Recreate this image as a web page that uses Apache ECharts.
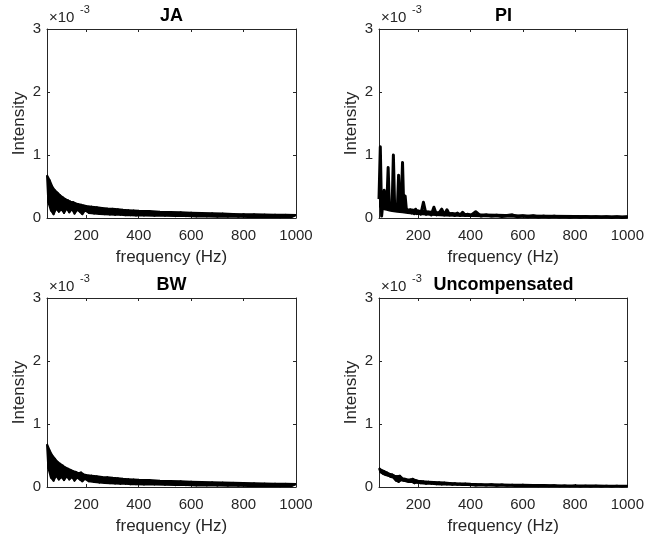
<!DOCTYPE html>
<html><head><meta charset="utf-8">
<script src="https://cdn.jsdelivr.net/npm/echarts@6/dist/echarts.min.js"></script>
<style>html,body{margin:0;padding:0;background:#fff}#c{width:647px;height:542px}</style>
</head><body><div id="c"></div>
<script>
// Frequency grid (Hz)
const freq = [50,55,60,65,70,75,80,85,90,95,100,105,110,115,120,125,130,135,140,145,150,155,160,165,170,175,180,185,190,195,200,
210,220,230,240,250,260,270,280,290,300,310,320,330,340,350,360,370,380,390,400,
420,440,460,480,500,520,540,560,580,600,620,640,660,680,700,720,740,760,780,800,820,840,860,880,900,920,940,960,980,1000];

// Intensity values in units of 1e-3 (alternating upper / lower swings of the dense spectrum)
const ja = [0.68,0.25,0.60,0.12,0.50,0.06,0.44,0.15,0.40,0.10,0.36,0.14,0.33,0.08,0.30,0.15,0.28,0.09,0.26,0.14,0.25,0.07,0.23,0.13,0.22,0.10,0.21,0.06,0.20,0.12,0.19,
0.08,0.18,0.07,0.17,0.065,0.16,0.06,0.15,0.055,0.145,0.05,0.14,0.05,0.13,0.045,0.125,0.045,0.12,0.04,0.115,
0.04,0.11,0.035,0.10,0.035,0.095,0.03,0.09,0.03,0.085,0.025,0.08,0.025,0.075,0.02,0.07,0.02,0.065,0.018,0.06,0.016,0.058,0.015,0.055,0.014,0.052,0.012,0.05,0.012,0.048];

const pi = [0.30,1.13,0.03,0.25,0.44,0.15,0.22,0.80,0.15,0.20,0.14,1.00,0.15,0.18,0.12,0.68,0.13,0.20,0.88,0.11,0.35,0.12,0.15,0.09,0.13,0.08,0.12,0.07,0.14,0.07,0.11,
0.06,0.25,0.06,0.09,0.05,0.17,0.05,0.08,0.14,0.05,0.13,0.05,0.07,0.04,0.08,0.04,0.09,0.04,0.06,0.035,
0.10,0.03,0.05,0.03,0.045,0.025,0.04,0.05,0.02,0.035,0.02,0.035,0.015,0.03,0.015,0.03,0.015,0.025,0.01,0.025,0.01,0.025,0.01,0.02,0.01,0.02,0.008,0.02,0.008,0.02];

// PI dense background band (upper / lower edges), units of 1e-3
const piBaseFreq = [50,60,70,80,90,100,120,140,160,180,200,250,300,350,400,500,600,700,800,900,1000];
const piBaseHi = [0.32,0.28,0.25,0.23,0.21,0.20,0.18,0.16,0.14,0.13,0.12,0.10,0.085,0.07,0.06,0.05,0.04,0.035,0.03,0.028,0.025];
const piBaseLo = [0.20,0.15,0.14,0.13,0.12,0.11,0.10,0.09,0.08,0.07,0.065,0.05,0.04,0.035,0.03,0.022,0.018,0.014,0.012,0.01,0.008];

const bw = [0.68,0.30,0.58,0.15,0.50,0.10,0.45,0.18,0.40,0.12,0.37,0.16,0.34,0.11,0.31,0.17,0.29,0.12,0.27,0.16,0.25,0.10,0.24,0.15,0.22,0.12,0.23,0.09,0.20,0.13,0.19,
0.09,0.18,0.08,0.17,0.07,0.16,0.065,0.155,0.06,0.145,0.055,0.14,0.05,0.13,0.05,0.125,0.045,0.12,0.045,0.115,
0.04,0.11,0.04,0.10,0.035,0.095,0.03,0.09,0.03,0.085,0.025,0.08,0.025,0.075,0.022,0.07,0.02,0.066,0.018,0.062,0.016,0.058,0.015,0.055,0.014,0.052,0.012,0.05,0.012,0.048];

const unc = [0.30,0.24,0.27,0.21,0.25,0.19,0.23,0.18,0.21,0.16,0.20,0.15,0.18,0.10,0.17,0.08,0.18,0.11,0.14,0.10,0.13,0.09,0.12,0.08,0.12,0.08,0.13,0.06,0.11,0.07,0.10,
0.06,0.09,0.05,0.085,0.05,0.08,0.045,0.075,0.04,0.07,0.04,0.065,0.035,0.06,0.035,0.055,0.03,0.055,0.03,0.05,
0.025,0.045,0.025,0.045,0.02,0.04,0.02,0.035,0.015,0.035,0.015,0.03,0.012,0.03,0.012,0.028,0.01,0.025,0.01,0.025,0.008,0.022,0.008,0.022,0.007,0.02,0.007,0.02,0.006,0.018];

const titles = ['JA','PI','BW','Uncompensated'];
const values = [ja, pi, bw, unc];
const xTicks = [200,400,600,800,1000];
const yTicks = [0,1,2,3];
const xRange = [50,1000];
const yRange = [0,3];
const xName = 'frequency (Hz)';
const yName = 'Intensity';

// band outlines per panel: [frequencies, upper edge, lower edge]
function evenOdd(arr, parity){ return arr.filter((_,k)=>k%2===parity); }
const bands = [
  [evenOdd(freq,0), evenOdd(ja,0), evenOdd(freq,1), evenOdd(ja,1)],
  [piBaseFreq, piBaseHi, piBaseFreq, piBaseLo],
  [evenOdd(freq,0), evenOdd(bw,0), evenOdd(freq,1), evenOdd(bw,1)],
  [evenOdd(freq,0), evenOdd(unc,0), evenOdd(freq,1), evenOdd(unc,1)]
];

const FONT = '"Liberation Sans", Arial, Helvetica, sans-serif';
const AX = '#262626';
const boxes = [[47,29],[379,29],[47,298],[379,298]];
const W = 249, H = 189;

const grid=[], xAxis=[], yAxis=[], series=[], graphic=[];
boxes.forEach((b,i)=>{
  grid.push({left:b[0], top:b[1], width:W, height:H, containLabel:false});
  const baseX = {type:'value', gridIndex:i, min:xRange[0], max:xRange[1],
    axisLine:{show:true, onZero:false, lineStyle:{color:AX, width:1}},
    axisTick:{show:true, inside:true, length:3, customValues:xTicks, lineStyle:{color:AX}},
    splitLine:{show:false}};
  xAxis.push(Object.assign({}, baseX, {position:'bottom',
    axisLabel:{show:true, customValues:xTicks, color:AX, fontSize:15, fontFamily:FONT, margin:10, formatter:v=>String(v)},
    name:xName, nameLocation:'middle', nameGap:31, nameTextStyle:{color:AX, fontSize:17, fontFamily:FONT}}));
  xAxis.push(Object.assign({}, baseX, {position:'top', axisLabel:{show:false}}));
  const baseY = {type:'value', gridIndex:i, min:yRange[0], max:yRange[1], interval:1,
    axisLine:{show:true, onZero:false, lineStyle:{color:AX, width:1}},
    axisTick:{show:true, inside:true, length:3, lineStyle:{color:AX}},
    splitLine:{show:false}};
  yAxis.push(Object.assign({}, baseY, {position:'left',
    axisLabel:{show:true, color:AX, fontSize:15, fontFamily:FONT, margin:6, formatter:v=>String(v)},
    name:yName, nameLocation:'middle', nameGap:19, nameTextStyle:{color:AX, fontSize:17, fontFamily:FONT}}));
  yAxis.push(Object.assign({}, baseY, {position:'right', axisLabel:{show:false}}));
  const vals = values[i];
  const bd = bands[i];
  series.push({type:'custom', xAxisIndex:2*i, yAxisIndex:2*i, coordinateSystem:'cartesian2d',
    data:[[bd[0][0], bd[1][0]]], silent:true, clip:true,
    renderItem:(params, api)=>{
      const up = bd[0].map((f,k)=>api.coord([f, bd[1][k]]));
      const lo = bd[2].map((f,k)=>api.coord([f, bd[3][k]]));
      return {type:'polygon', shape:{points:up.concat(lo.reverse())},
        style:{fill:'#000', stroke:'#000', lineWidth:2, lineJoin:'round'}};
    }});
  series.push({type:'line', xAxisIndex:2*i, yAxisIndex:2*i, showSymbol:false, symbol:'none',
    data: freq.map((f,k)=>[f, vals[k]]), lineStyle:{color:'#000', width:i===1?3:2, join:'round'}, clip:true, silent:true});
  graphic.push({type:'text', x:b[0]+W/2, y:b[1]-13, style:{text:titles[i], fill:'#000',
    font:'bold 18px '+FONT, textAlign:'center', textVerticalAlign:'middle'}});
  graphic.push({type:'text', x:b[0]+2, y:b[1]-4, style:{text:'\u00d710', fill:AX,
    font:'15px '+FONT, textAlign:'left', textVerticalAlign:'bottom'}});
  graphic.push({type:'text', x:b[0]+33, y:b[1]-14, style:{text:'-3', fill:AX,
    font:'11px '+FONT, textAlign:'left', textVerticalAlign:'bottom'}});
});

const chart = echarts.init(document.getElementById('c'), null, {renderer:'canvas'});
chart.setOption({animation:false, backgroundColor:'#fff', grid, xAxis, yAxis, series, graphic});
</script></body></html>
